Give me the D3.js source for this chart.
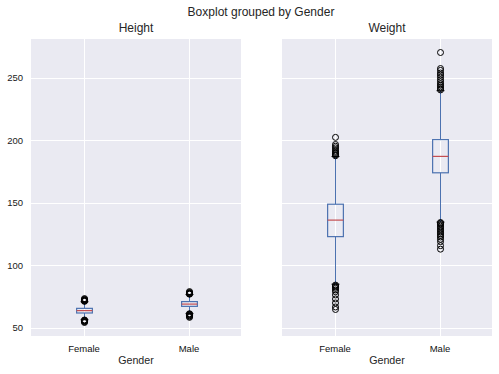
<!DOCTYPE html>
<html>
<head>
<meta charset="utf-8">
<script src="https://cdn.jsdelivr.net/npm/d3@7"></script>
<style>
  body { margin: 0; background: #fff; }
  svg text { font-family: "Liberation Sans", Arial, sans-serif; fill: #262626; }
</style>
</head>
<body>
<div id="chart"></div>
<script>
  // Categories and y ticks
  const genders = ['Female', 'Male'];
  const yTicks = [50, 100, 150, 200, 250];

  // Box statistics per panel, one entry per gender
  const heightQ1 = [61.9, 67.2];
  const heightMedian = [63.8, 69.0];
  const heightQ3 = [65.6, 71.0];
  const heightLow = [56.5, 61.4];
  const heightHigh = [70.9, 76.7];
  const heightFliers = [
    [54.3, 54.9, 55.3, 55.7, 56.0, 56.3, 71.2, 71.5, 71.8, 72.1, 72.4, 72.8, 73.4],
    [58.4, 59.0, 59.6, 60.1, 60.6, 61.0, 61.3, 76.9, 77.2, 77.5, 77.9, 78.3, 79.0]
  ];

  const weightQ1 = [122.9, 173.9];
  const weightMedian = [136.1, 187.0];
  const weightQ3 = [148.8, 200.4];
  const weightLow = [84.9, 134.5];
  const weightHigh = [186.9, 239.5];
  const weightFliers = [
    [64.7, 66.7, 69.9, 73.1, 76.3, 78.9, 80.3, 81.6, 82.6, 83.4, 84.2,
     187.5, 188.3, 189.2, 190.1, 191.0, 192.4, 193.8, 195.1, 196.5, 202.2],
    [112.9, 115.7, 118.9, 120.8, 122.6, 123.9, 125.1, 126.4, 127.6, 128.9, 130.1,
     131.3, 132.5, 133.6, 134.2, 240.1, 241.2, 242.5, 243.8, 245.0, 246.7, 248.3,
     250.2, 252.0, 253.6, 255.7, 257.2, 270.0]
  ];

  const panels = [
    { title: 'Height', q1: heightQ1, med: heightMedian, q3: heightQ3, lo: heightLow, hi: heightHigh, fliers: heightFliers, left: 31, showY: true },
    { title: 'Weight', q1: weightQ1, med: weightMedian, q3: weightQ3, lo: weightLow, hi: weightHigh, fliers: weightFliers, left: 282, showY: false }
  ];

  const W = 499, H = 374;
  const plotW = 210, plotTop = 39, plotBottom = 336;

  const svg = d3.select('#chart').append('svg')
    .attr('width', W)
    .attr('height', H);

  // shared y range with matplotlib-like 5% margins
  const allVals = panels.flatMap(p => [...p.lo, ...p.hi, ...p.fliers.flat()]);
  const yMin = d3.min(allVals), yMax = d3.max(allVals);
  const pad = (yMax - yMin) * 0.05;
  const y = d3.scaleLinear()
    .domain([yMin - pad, yMax + pad])
    .range([plotBottom, plotTop]);

  const boxColor = '#4C72B0';
  const medColor = '#C44E52';

  svg.append('text')
    .attr('x', 261)
    .attr('y', 16)
    .attr('text-anchor', 'middle')
    .style('font-size', '12px')
    .text('Boxplot grouped by Gender');

  panels.forEach(p => {
    const x = d3.scalePoint()
      .domain(genders)
      .range([p.left, p.left + plotW])
      .padding(0.5);
    const unit = plotW / 2; // one category step
    const boxW = 0.15 * unit;
    const capW = boxW / 2;

    const g = svg.append('g');

    g.append('rect')
      .attr('x', p.left)
      .attr('y', plotTop)
      .attr('width', plotW)
      .attr('height', plotBottom - plotTop)
      .attr('fill', '#EAEAF2');

    // grid
    g.selectAll('.hgrid')
      .data(yTicks)
      .enter()
      .append('line')
      .attr('x1', p.left).attr('x2', p.left + plotW)
      .attr('y1', d => Math.round(y(d)) + 0.5).attr('y2', d => Math.round(y(d)) + 0.5)
      .attr('stroke', '#fff')
      .attr('stroke-width', 1);

    g.selectAll('.vgrid')
      .data(genders)
      .enter()
      .append('line')
      .attr('x1', d => Math.round(x(d)) + 0.5).attr('x2', d => Math.round(x(d)) + 0.5)
      .attr('y1', plotTop).attr('y2', plotBottom)
      .attr('stroke', '#fff')
      .attr('stroke-width', 1);

    // y axis labels
    if (p.showY) {
      const yAxis = d3.axisLeft(y).tickValues(yTicks).tickSize(0).tickPadding(8);
      const ya = g.append('g')
        .attr('transform', `translate(${p.left},0)`)
        .call(yAxis);
      ya.select('.domain').remove();
      ya.selectAll('text')
        .style('font-size', '9.5px')
        .style('font-family', '"Liberation Sans", Arial, sans-serif')
        .style('fill', '#1a1a1a');
    }

    // x axis labels
    const xAxis = d3.axisBottom(x).tickSize(0).tickPadding(9);
    const xa = g.append('g')
      .attr('transform', `translate(0,${plotBottom})`)
      .call(xAxis);
    xa.select('.domain').remove();
    xa.selectAll('text')
      .style('font-size', '9.5px')
      .style('font-family', '"Liberation Sans", Arial, sans-serif')
      .style('fill', '#111');

    g.append('text')
      .attr('x', p.left + plotW / 2)
      .attr('y', 364)
      .attr('text-anchor', 'middle')
      .style('font-size', '10.7px')
      .text('Gender');

    g.append('text')
      .attr('x', p.left + plotW / 2)
      .attr('y', 32)
      .attr('text-anchor', 'middle')
      .style('font-size', '12px')
      .text(p.title);

    genders.forEach((c, i) => {
      const cx = Math.round(x(c)) + 0.5;
      // whiskers
      g.append('line')
        .attr('x1', cx).attr('x2', cx)
        .attr('y1', y(p.lo[i])).attr('y2', y(p.q1[i]))
        .attr('stroke', boxColor).attr('stroke-width', 1);
      g.append('line')
        .attr('x1', cx).attr('x2', cx)
        .attr('y1', y(p.q3[i])).attr('y2', y(p.hi[i]))
        .attr('stroke', boxColor).attr('stroke-width', 1);
      // caps
      [p.lo[i], p.hi[i]].forEach(v => {
        g.append('line')
          .attr('x1', cx - capW / 2).attr('x2', cx + capW / 2)
          .attr('y1', y(v)).attr('y2', y(v))
          .attr('stroke', '#000').attr('stroke-width', 1);
      });
      // box
      g.append('rect')
        .attr('x', cx - boxW / 2)
        .attr('y', y(p.q3[i]))
        .attr('width', boxW)
        .attr('height', y(p.q1[i]) - y(p.q3[i]))
        .attr('fill', 'none')
        .attr('stroke', boxColor)
        .attr('stroke-width', 1.2);
      // median
      g.append('line')
        .attr('x1', cx - boxW / 2).attr('x2', cx + boxW / 2)
        .attr('y1', y(p.med[i])).attr('y2', y(p.med[i]))
        .attr('stroke', medColor).attr('stroke-width', 1.2);
      // fliers
      g.selectAll(null)
        .data(p.fliers[i])
        .enter()
        .append('circle')
        .attr('cx', cx)
        .attr('cy', d => y(d))
        .attr('r', 3)
        .attr('fill', 'none')
        .attr('stroke', '#000')
        .attr('stroke-width', 1);
    });
  });
</script>
</body>
</html>
